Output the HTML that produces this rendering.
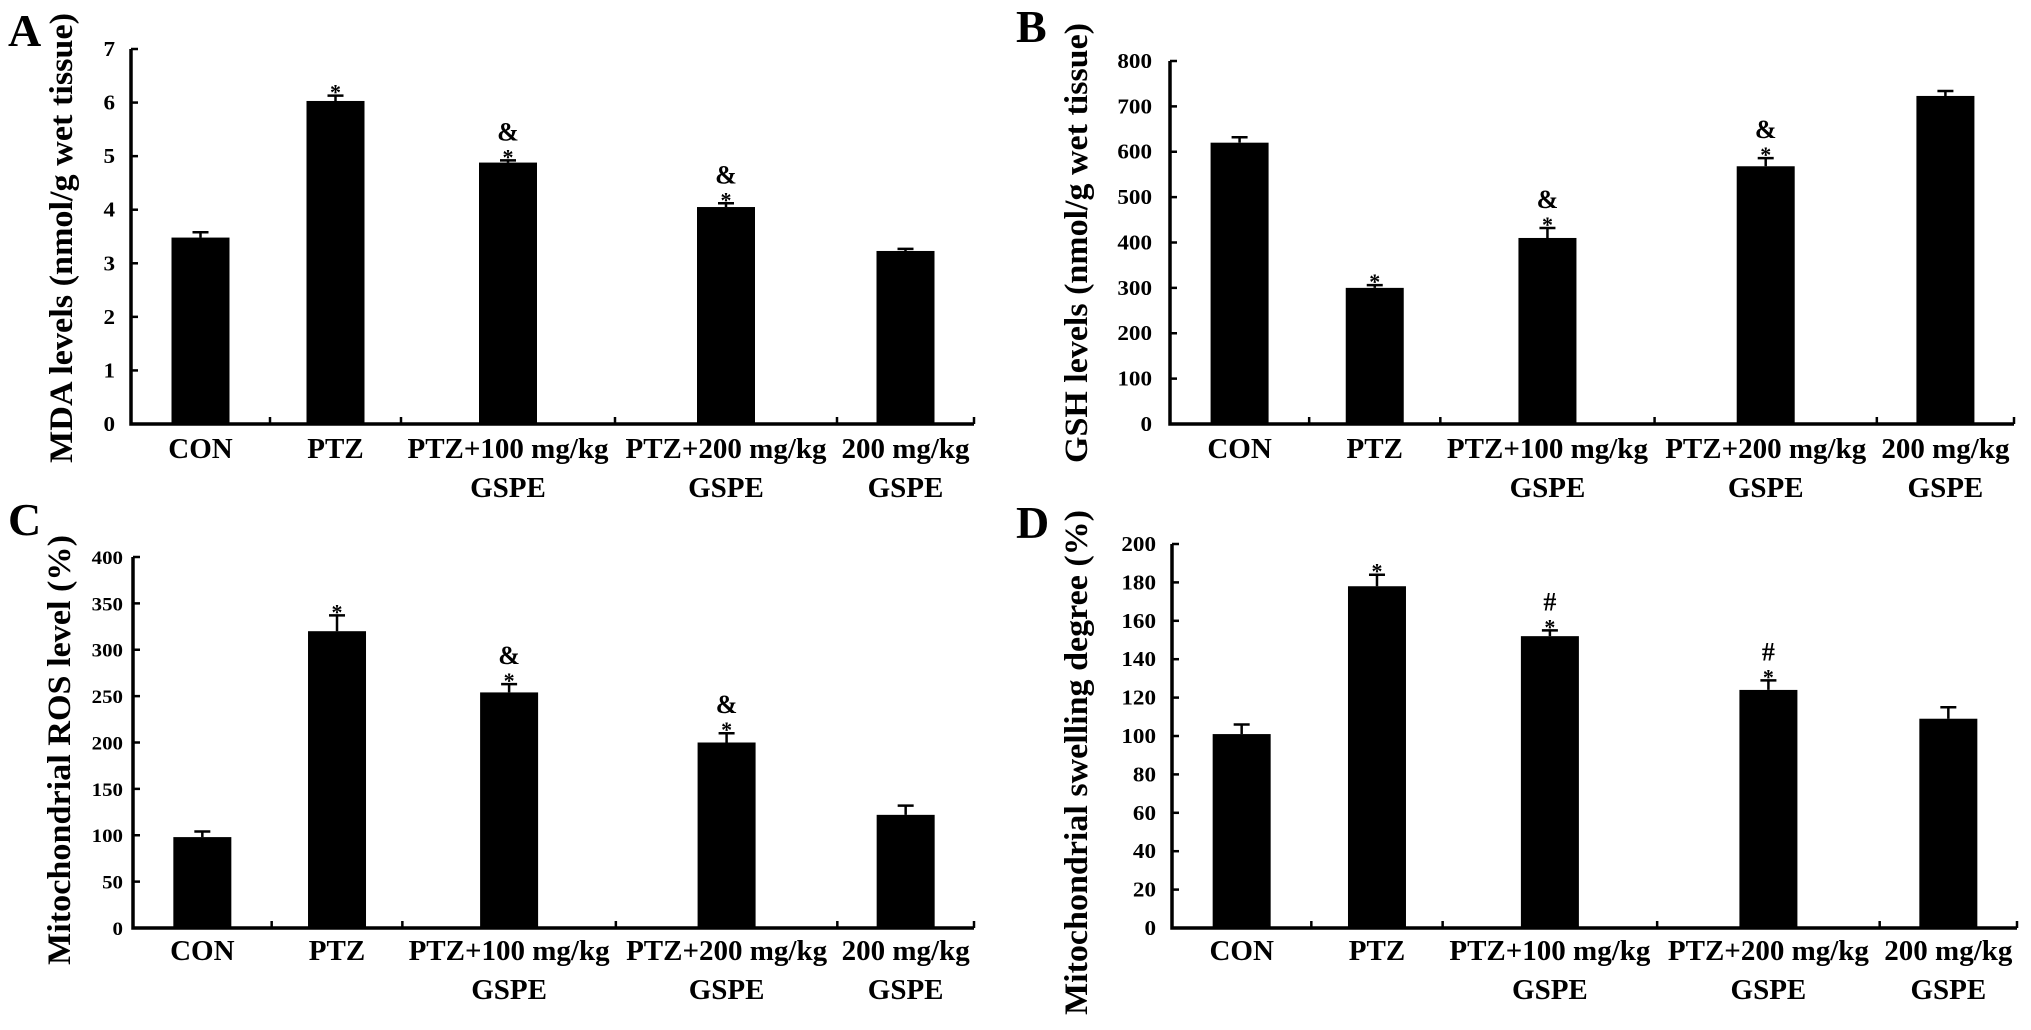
<!DOCTYPE html>
<html><head><meta charset="utf-8"><style>
html,body{margin:0;padding:0;background:#fff;}
svg{display:block;}
text{font-family:"Liberation Serif",serif;font-weight:bold;fill:#000;}
</style></head><body>
<svg id="fig" width="2031" height="1030" viewBox="0 0 2031 1030" xmlns="http://www.w3.org/2000/svg"></svg>
<script>
const categories = ["CON","PTZ","PTZ+100 mg/kg|GSPE","PTZ+200 mg/kg|GSPE","200 mg/kg|GSPE"];
const aValues = [3.48, 6.03, 4.88, 4.05, 3.23];
const aErrors = [0.10, 0.10, 0.04, 0.07, 0.04];
const aMarks = ["", "*", "*&", "*&", ""];
const aTicks = [0,1,2,3,4,5,6,7];
const bValues = [620, 300, 410, 568, 723];
const bErrors = [12, 6, 22, 18, 11];
const bMarks = ["", "*", "*&", "*&", ""];
const bTicks = [0,100,200,300,400,500,600,700,800];
const cValues = [98, 320, 254, 200, 122];
const cErrors = [6, 17, 9, 10, 10];
const cMarks = ["", "*", "*&", "*&", ""];
const cTicks = [0,50,100,150,200,250,300,350,400];
const dValues = [101, 178, 152, 124, 109];
const dErrors = [5, 6, 3, 5, 6];
const dMarks = ["", "*", "*#", "*#", ""];
const dTicks = [0,20,40,60,80,100,120,140,160,180,200];

const NS = "http://www.w3.org/2000/svg";
const svg = document.getElementById('fig');
function mk(tag, attrs, parent){const e=document.createElementNS(NS,tag);for(const k in attrs)e.setAttribute(k,attrs[k]);(parent||svg).appendChild(e);return e;}

// band layout weights (axis styling)
const bandWeights = [139,131,214,222,137];

function drawPanel(p){
  const g = mk('g',{});
  
  
  const ymax = p.ticks[p.ticks.length-1];
  const yS = v => p.y0 - (v/ymax)*(p.y0 - p.yTop);
  const tot = bandWeights.reduce((a,b)=>a+b,0);
  const W = p.x1 - p.x0;
  const edges=[p.x0]; let acc=0;
  bandWeights.forEach(w=>{acc+=w;edges.push(p.x0+acc/tot*W);});
  const xC = i => (edges[i]+edges[i+1])/2;
  const bw = 58;
  const L = mk('text',{x:p.lx,y:p.ly,'font-size':46},g); L.textContent=p.id;
  
  
  const yc=(p.tTop+p.tBot)/2;
  const T = mk('text',{x:0,y:0,'font-size':33,'text-anchor':'middle',textLength:p.tBot-p.tTop,lengthAdjust:'spacingAndGlyphs',transform:`translate(${p.tx},${yc}) rotate(-90)`},g);
  T.textContent=p.title;
  
  
  p.values.forEach((v,i)=>{
    const cx=xC(i);
    const r=mk('rect',{x:cx-bw/2,y:yS(v),width:bw,height:p.y0-yS(v),fill:'#000'},g);
    
    
    const top=yS(v+p.errors[i]);
    const e=mk('path',{d:`M${cx} ${yS(v)}V${top}M${cx-8} ${top}H${cx+8}`,stroke:'#000','stroke-width':2.5,fill:'none'},g);
    
    
    const m=p.marks[i];
    if(m.length>0){
      const s=mk('text',{x:cx,y:top+4,'font-size':22,'text-anchor':'middle'},g); s.textContent=m[0];
      
      
    }
    if(m.length>1){
      const s=mk('text',{x:cx,y:top-20,'font-size':26,'text-anchor':'middle'},g); s.textContent=m[1];
      
      
    }
    const parts=categories[i].split('|');
    parts.forEach((t,k)=>{
      const lab=mk('text',{x:xC(i),y:p.labY+k*39,'font-size':29,'text-anchor':'middle'},g);
      lab.textContent=t;
      
      
    });
  });
  const ax=mk('path',{d:`M${p.x0} ${p.yTop}V${p.y0}H${p.x1}`,stroke:'#000','stroke-width':3.5,fill:'none'},g);
  
  
  edges.slice(1).forEach(x=>{mk('path',{d:`M${x} ${p.y0}V${p.y0-7}`,stroke:'#000','stroke-width':2.5},g);});
  p.ticks.forEach(t=>{
    const y=yS(t);
    mk('path',{d:`M${p.x0} ${y}H${p.x0+7}`,stroke:'#000','stroke-width':2.5},g);
    const tx=p.x0-p.tickGap;
    const tl=mk('text',{x:tx,y:y+7,'font-size':p.tickFs,'text-anchor':'end',transform:`translate(${tx},0) scale(1.1,1) translate(${-tx},0)`},g);
    tl.textContent=t;
    
    
  });
}

drawPanel({id:'A',values:aValues,errors:aErrors,marks:aMarks,ticks:aTicks,x0:131,x1:974,y0:424,yTop:49,lx:8,ly:46,tx:72,tTop:13,tBot:463,title:'MDA levels (nmol/g wet tissue)',labY:458,tickGap:16,tickFs:21});
drawPanel({id:'B',values:bValues,errors:bErrors,marks:bMarks,ticks:bTicks,x0:1170,x1:2014,y0:424,yTop:61,lx:1016,ly:42,tx:1087,tTop:23,tBot:463,title:'GSH levels (nmol/g wet tissue)',labY:458,tickGap:18,tickFs:21});
drawPanel({id:'C',values:cValues,errors:cErrors,marks:cMarks,ticks:cTicks,x0:133,x1:974,y0:928,yTop:557,lx:8,ly:535,tx:70,tTop:535,tBot:965,title:'Mitochondrial ROS level (%)',labY:960,tickGap:10,tickFs:19});
drawPanel({id:'D',values:dValues,errors:dErrors,marks:dMarks,ticks:dTicks,x0:1172,x1:2017,y0:928,yTop:544,lx:1016,ly:538,tx:1087,tTop:510,tBot:1015,title:'Mitochondrial swelling degree (%)',labY:960,tickGap:16,tickFs:21});
</script>
</body></html>
